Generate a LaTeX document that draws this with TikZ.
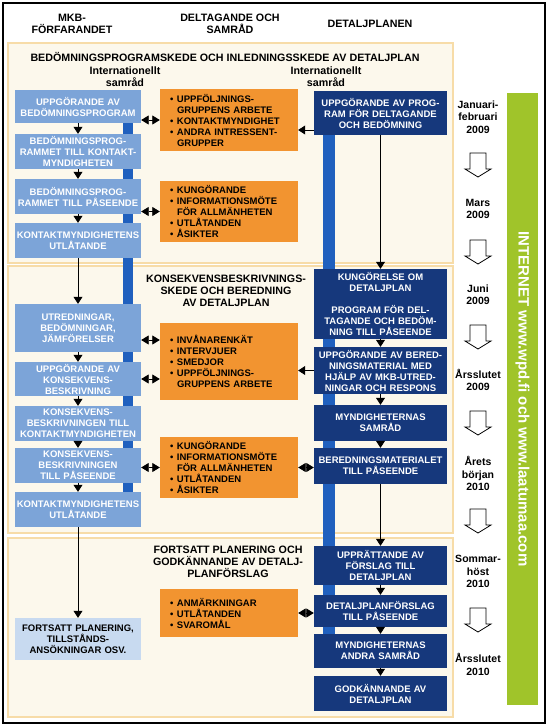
\documentclass[tikz,border=0pt]{standalone}
\usepackage{fontspec}
\setmainfont{Liberation Sans}
\usepackage{tikz}
\usetikzlibrary{arrows.meta, positioning}
\definecolor{mkbblue}{RGB}{124,164,216}
\definecolor{mkbpale}{RGB}{200,218,240}
\definecolor{planblue}{RGB}{22,56,124}
\definecolor{barblue}{RGB}{32,96,190}
\definecolor{deltaorange}{RGB}{242,148,48}
\definecolor{webgreen}{RGB}{160,196,42}
\definecolor{panelfill}{RGB}{252,248,236}
\definecolor{panelline}{RGB}{247,220,168}
\newcommand\boxfont{\bfseries\fontsize{9.5}{11}\selectfont}
\newcommand\headfont{\bfseries\fontsize{10.7}{12.2}\selectfont}
\newcommand\datefont{\bfseries\fontsize{10.5}{12.5}\selectfont}
\newcommand\webfont{\bfseries\fontsize{15}{16}\selectfont}
\newcommand\itembul{\makebox[7pt][l]{\textbullet}}
\newcommand\itemind{\hspace*{7pt}}
\tikzstyle{phasebox}  = [draw=panelline, fill=panelfill, line width=1.2pt, minimum width=445pt, inner sep=0pt]
\tikzstyle{bar}       = [fill=barblue, minimum width=10pt, inner sep=0pt]
\tikzstyle{mkb}       = [fill=mkbblue, text=white, font=\boxfont, align=center, text width=124pt, minimum width=126pt, inner xsep=1pt, inner ysep=0pt]
\tikzstyle{plan}      = [fill=planblue, text=white, font=\boxfont, align=center, text width=131pt, minimum width=133pt, inner xsep=1pt, inner ysep=0pt]
\tikzstyle{delta}     = [fill=deltaorange, font=\boxfont, align=left, text width=118pt, minimum width=138pt, inner xsep=10pt, inner ysep=0pt]
\tikzstyle{headtext}  = [font=\headfont, align=center, inner sep=0pt]
\tikzstyle{datetext}  = [font=\datefont, align=center, inner sep=0pt]
\tikzstyle{web}       = [fill=webgreen, text=white, font=\webfont, rotate=-90, inner sep=0pt]
\tikzstyle{flow}      = [line width=0.8pt, -{Triangle[length=7pt, width=9pt]}]
\tikzstyle{both}      = [line width=0.8pt, {Triangle[length=7.5pt, width=9pt]}-{Triangle[length=7.5pt, width=9pt]}]
\tikzstyle{hollow}    = [draw, line width=0.8pt, fill=white]

\begin{document}
\begin{tikzpicture}[x=1pt, y=-1pt]

% frame
\fill [white] (0,0) rectangle (548,726);
\useasboundingbox (0,0) rectangle (548,726);
\draw [line width=1.5pt] (3,3) rectangle (545,723);

% phases
\node [phasebox, minimum height=220pt] at (230.5, 153  ) (p1) {};
\node [phasebox, minimum height=267pt] at (230.5, 399.5) (p2) {};
\node [phasebox, minimum height=179pt] at (230.5, 627.5) (p3) {};

% blue bars
\node [bar, minimum height=410pt]                    at (128, 295  ) (lbar) {};
\node [bar, minimum width=12pt, minimum height=527pt] at (329, 376.5) (rbar) {};

% headings
\node [headtext] at ( 72,  24) (hmkb)   {MKB-\\FÖRFARANDET};
\node [headtext] at (230,  24) (hdelta) {DELTAGANDE OCH\\SAMRÅD};
\node [headtext] at (370,  24) (hplan)  {DETALJPLANEN};
\node [headtext] at (225,  57) (t1)     {BEDÖMNINGSPROGRAMSKEDE OCH INLEDNINGSSKEDE AV DETALJPLAN};
\node [headtext] at (125,  77) (int1)   {Internationellt\\samråd};
\node [headtext] at (326,  77) (int2)   {Internationellt\\samråd};
\node [headtext] at (226, 291) (t2)     {KONSEKVENSBESKRIVNINGS-\\SKEDE OCH BEREDNING\\AV DETALJPLAN};
\node [headtext] at (228, 562) (t3)     {FORTSATT PLANERING OCH\\GODKÄNNANDE AV DETALJ-\\PLANFÖRSLAG};

% mkb column
\node [mkb, minimum height=33pt] at (78, 106.5) (mkb1)  {UPPGÖRANDE AV\\BEDÖMNINGSPROGRAM};
\node [mkb, minimum height=35pt] at (78, 151.5) (mkb2)  {BEDÖMNINGSPROG-\\RAMMET TILL KONTAKT-\\MYNDIGHETEN};
\node [mkb, minimum height=35pt] at (78, 196.5) (mkb3)  {BEDÖMNINGSPROG-\\RAMMET TILL PÅSEENDE};
\node [mkb, minimum height=35pt] at (78, 240.5) (mkb4)  {KONTAKTMYNDIGHETENS\\UTLÅTANDE};
\node [mkb, minimum height=48pt] at (78, 328  ) (mkb5)  {UTREDNINGAR,\\BEDÖMNINGAR,\\JÄMFÖRELSER};
\node [mkb, minimum height=34pt] at (78, 379  ) (mkb6)  {UPPGÖRANDE AV\\KONSEKVENS-\\BESKRIVNING};
\node [mkb, minimum height=35pt] at (78, 423.5) (mkb7)  {KONSEKVENS-\\BESKRIVNINGEN TILL\\KONTAKTMYNDIGHETEN};
\node [mkb, minimum height=35pt] at (78, 465.5) (mkb8)  {KONSEKVENS-\\BESKRIVNINGEN\\TILL PÅSEENDE};
\node [mkb, minimum height=35pt] at (78, 509.5) (mkb9)  {KONTAKTMYNDIGHETENS\\UTLÅTANDE};
\node [mkb, minimum height=42pt, fill=mkbpale, text=black] at (78, 639) (mkb10) {FORTSATT PLANERING,\\TILLSTÅNDS-\\ANSÖKNINGAR OSV.};

% participation column
\node [delta, minimum height=62pt] at (229, 120  ) (delta1) {\itembul UPPFÖLJNINGS-\\\itemind GRUPPENS ARBETE\\\itembul KONTAKTMYNDIGHET\\\itembul ANDRA INTRESSENT-\\\itemind GRUPPER};
\node [delta, minimum height=61pt] at (229, 211.5) (delta2) {\itembul KUNGÖRANDE\\\itembul INFORMATIONSMÖTE\\\itemind FÖR ALLMÄNHETEN\\\itembul UTLÅTANDEN\\\itembul ÅSIKTER};
\node [delta, minimum height=77pt] at (229, 361.5) (delta3) {\itembul INVÅNARENKÄT\\\itembul INTERVJUER\\\itembul SMEDJOR\\\itembul UPPFÖLJNINGS-\\\itemind GRUPPENS ARBETE};
\node [delta, minimum height=61pt] at (229, 467.5) (delta4) {\itembul KUNGÖRANDE\\\itembul INFORMATIONSMÖTE\\\itemind FÖR ALLMÄNHETEN\\\itembul UTLÅTANDEN\\\itembul ÅSIKTER};
\node [delta, minimum height=48pt] at (229, 613  ) (delta5) {\itembul ANMÄRKNINGAR\\\itembul UTLÅTANDEN\\\itembul SVAROMÅL};

% plan column
\node [plan, minimum height=44pt] at (380.5, 113  ) (plan1) {UPPGÖRANDE AV PROG-\\RAM FÖR DELTAGANDE\\OCH BEDÖMNING};
\node [plan, minimum height=70pt] at (380.5, 304  ) (plan2) {KUNGÖRELSE OM\\DETALJPLAN\\[11pt]PROGRAM FÖR DEL-\\TAGANDE OCH BEDÖM-\\NING TILL PÅSEENDE};
\node [plan, minimum height=47pt] at (380.5, 370.5) (plan3) {UPPGÖRANDE AV BERED-\\NINGSMATERIAL MED\\HJÄLP AV MKB-UTRED-\\NINGAR OCH RESPONS};
\node [plan, minimum height=36pt] at (380.5, 423  ) (plan4) {MYNDIGHETERNAS\\SAMRÅD};
\node [plan, minimum height=36pt] at (380.5, 466  ) (plan5) {BEREDNINGSMATERIALET\\TILL PÅSEENDE};
\node [plan, minimum height=39pt] at (380.5, 565.5) (plan6) {UPPRÄTTANDE AV\\FÖRSLAG TILL\\DETALJPLAN};
\node [plan, minimum height=32pt] at (380.5, 611  ) (plan7) {DETALJPLANFÖRSLAG\\TILL PÅSEENDE};
\node [plan, minimum height=34pt] at (380.5, 651  ) (plan8) {MYNDIGHETERNAS\\ANDRA SAMRÅD};
\node [plan, minimum height=35pt] at (380.5, 693.5) (plan9) {GODKÄNNANDE AV\\DETALJPLAN};

% time line
\node [datetext] at (478, 117  ) (d1) {Januari-\\februari\\2009};
\node [datetext] at (478, 209  ) (d2) {Mars\\2009};
\node [datetext] at (478, 294.5) (d3) {Juni\\2009};
\node [datetext] at (478, 380  ) (d4) {Årsslutet\\2009};
\node [datetext] at (478, 473.5) (d5) {Årets\\början\\2010};
\node [datetext] at (478, 571.5) (d6) {Sommar-\\höst\\2010};
\node [datetext] at (478, 664.5) (d7) {Årsslutet\\2010};
\foreach \y in {165, 252, 337, 423, 521, 620}
  \draw [hollow] (470,\y-12) -- (486,\y-12) -- (486,\y+4) -- (491,\y+4) -- (478,\y+12) -- (465,\y+4) -- (470,\y+4) -- cycle;

\node [web, minimum width=612pt, minimum height=31pt] at (522.5, 399) (web) {INTERNET www.wpd.fi och www.laatumaa.com};

% side points
\coordinate (plan1o) at ([yshift=-17pt]plan1.west);
\coordinate (mkb5o)  at ([yshift=-12pt]mkb5.east);

%  edges
\path [flow] (mkb1)   edge (mkb2)
             (mkb2)   edge (mkb3)
             (mkb3)   edge (mkb4)
             (mkb4)   edge (mkb5)
             (mkb5)   edge (mkb6)
             (mkb6)   edge (mkb7)
             (mkb7)   edge (mkb8)
             (mkb8)   edge (mkb9)
             (mkb9)   edge (mkb10)
             (plan1)  edge (plan2)
             (plan2)  edge (plan3)
             (plan3)  edge (plan4)
             (plan4)  edge (plan5)
             (plan5)  edge (plan6)
             (plan6)  edge (plan7)
             (plan7)  edge (plan8)
             (plan8)  edge (plan9)
             (plan1o) edge (plan1o -| delta1.east)
             (plan3.west) edge (plan3.west -| delta3.east);

\path [both] (mkb1.east |- delta1.west) edge (delta1.west)
             (mkb3.east |- delta2.west) edge (delta2.west)
             (mkb5o)                    edge (mkb5o -| delta3.west)
             (mkb6.east)                edge (mkb6.east -| delta3.west)
             (mkb8.east |- delta4.west) edge (delta4.west)
             (delta4.east)              edge (delta4.east -| plan5.west)
             (delta5.east)              edge (delta5.east -| plan7.west);

\end{tikzpicture}
\end{document}
